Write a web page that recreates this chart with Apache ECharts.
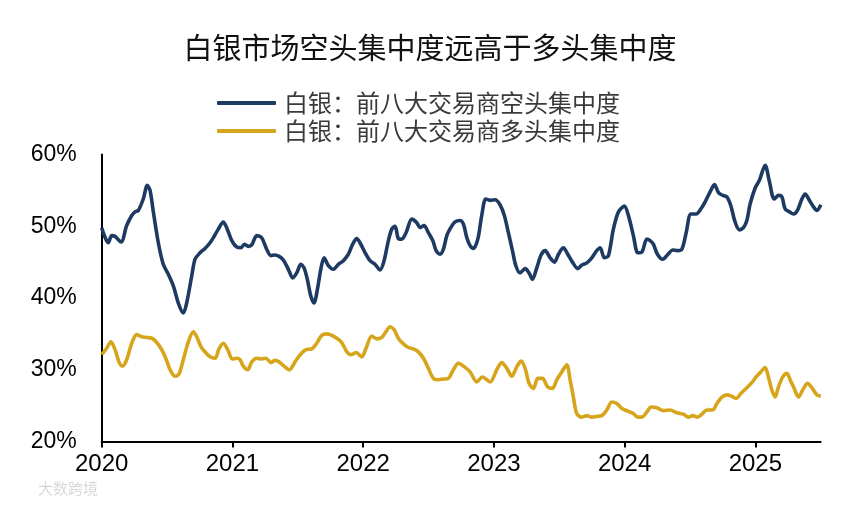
<!DOCTYPE html>
<html>
<head>
<meta charset="utf-8">
<script src="https://cdn.jsdelivr.net/npm/echarts@6/dist/echarts.min.js"></script>
<style>
html,body{margin:0;padding:0;background:#fff;}
#chart{width:860px;height:507px;}
</style>
</head>
<body>
<div id="chart"></div>
<script>
var titleText = '白银市场空头集中度远高于多头集中度';
var seriesNames = ['白银：前八大交易商空头集中度', '白银：前八大交易商多头集中度'];
var yearTicks = [2020, 2021, 2022, 2023, 2024, 2025];

var shortT = [2020.000,2020.050,2020.077,2020.102,2020.148,2020.191,2020.230,2020.255,2020.280,2020.318,
2020.349,2020.370,2020.395,2020.433,2020.471,2020.510,2020.548,2020.586,2020.624,2020.650,
2020.689,2020.714,2020.752,2020.790,2020.829,2020.854,2020.892,2020.930,2020.956,2020.995,
2021.033,2021.066,2021.091,2021.122,2021.148,2021.186,2021.224,2021.262,2021.295,2021.326,
2021.357,2021.389,2021.428,2021.461,2021.492,2021.523,2021.548,2021.573,2021.599,2021.624,
2021.650,2021.676,2021.701,2021.734,2021.772,2021.810,2021.849,2021.887,2021.920,2021.951,
2021.976,2022.015,2022.053,2022.091,2022.129,2022.160,2022.193,2022.219,2022.244,2022.269,
2022.295,2022.328,2022.372,2022.410,2022.435,2022.466,2022.499,2022.533,2022.558,2022.588,
2022.614,2022.640,2022.670,2022.703,2022.741,2022.767,2022.793,2022.818,2022.843,2022.877,
2022.907,2022.938,2022.971,2023.009,2023.047,2023.080,2023.111,2023.142,2023.168,2023.200,
2023.239,2023.269,2023.295,2023.328,2023.361,2023.392,2023.430,2023.463,2023.494,2023.532,
2023.565,2023.601,2023.642,2023.673,2023.711,2023.749,2023.787,2023.813,2023.845,2023.876,
2023.914,2023.953,2023.998,2024.029,2024.067,2024.101,2024.132,2024.170,2024.195,2024.220,
2024.251,2024.292,2024.327,2024.369,2024.404,2024.438,2024.471,2024.507,2024.547,2024.583,
2024.616,2024.654,2024.687,2024.718,2024.751,2024.782,2024.812,2024.845,2024.878,2024.909,
2024.935,2024.960,2024.998,2025.031,2025.075,2025.108,2025.144,2025.177,2025.203,2025.228,
2025.261,2025.292,2025.322,2025.356,2025.381,2025.414,2025.445,2025.471,2025.501];

var shortV = [49.8,47.7,48.7,48.6,47.8,50.1,51.5,52.0,52.2,53.8,
55.7,55.0,52.0,47.7,44.7,43.3,41.7,39.3,37.9,39.3,
43.1,45.4,46.3,46.9,47.7,48.4,49.6,50.6,49.8,48.0,
47.1,47.0,47.5,47.2,47.4,48.7,48.4,46.8,45.9,46.0,
45.8,45.3,44.0,42.8,43.5,44.7,44.2,42.6,40.3,39.3,
41.2,44.0,45.6,44.5,44.0,44.7,45.2,46.1,47.5,48.3,
47.7,46.3,45.2,44.7,43.9,45.2,48.0,49.6,50.0,48.3,
48.2,49.1,51.0,50.5,49.8,50.1,49.1,48.0,46.6,46.1,
46.8,48.7,49.8,50.6,50.8,50.3,48.4,47.3,46.9,48.2,
51.5,53.8,53.6,53.7,53.0,51.5,49.1,46.6,44.5,43.5,
44.1,43.5,42.6,44.2,46.0,46.6,45.6,45.0,46.1,47.0,
46.1,45.0,44.1,44.6,44.9,45.6,46.6,47.0,45.6,45.9,
49.6,52.0,52.8,51.5,48.7,46.3,46.4,48.2,48.0,47.5,
46.1,45.4,46.0,46.7,46.6,46.8,49.1,51.7,51.7,52.4,
53.4,54.8,55.8,54.7,54.3,54.1,52.9,50.6,49.5,49.8,
50.8,53.1,55.3,56.4,58.5,56.2,53.8,54.3,54.1,52.4,
52.0,51.7,52.2,53.8,54.5,53.6,52.7,52.2,53.0];

var longT = [2020.000,2020.038,2020.071,2020.102,2020.132,2020.158,2020.191,2020.230,2020.268,2020.306,
2020.344,2020.383,2020.421,2020.459,2020.490,2020.523,2020.561,2020.591,2020.624,2020.663,
2020.701,2020.727,2020.760,2020.790,2020.829,2020.867,2020.897,2020.930,2020.964,2020.999,
2021.033,2021.058,2021.083,2021.117,2021.148,2021.186,2021.224,2021.255,2021.295,2021.326,
2021.357,2021.389,2021.435,2021.479,2021.523,2021.563,2021.607,2021.645,2021.683,2021.722,
2021.760,2021.798,2021.836,2021.875,2021.907,2021.946,2021.989,2022.022,2022.066,2022.104,
2022.142,2022.175,2022.206,2022.236,2022.269,2022.308,2022.346,2022.384,2022.422,2022.461,
2022.499,2022.537,2022.575,2022.614,2022.652,2022.690,2022.728,2022.767,2022.818,2022.869,
2022.912,2022.971,2023.022,2023.060,2023.099,2023.137,2023.175,2023.208,2023.239,2023.269,
2023.302,2023.336,2023.371,2023.412,2023.448,2023.481,2023.519,2023.558,2023.583,2023.608,
2023.634,2023.673,2023.711,2023.749,2023.787,2023.826,2023.864,2023.902,2023.940,2023.979,
2024.029,2024.067,2024.101,2024.132,2024.170,2024.202,2024.246,2024.297,2024.348,2024.399,
2024.450,2024.488,2024.522,2024.557,2024.591,2024.629,2024.675,2024.706,2024.744,2024.782,
2024.820,2024.853,2024.889,2024.935,2024.973,2025.006,2025.042,2025.075,2025.100,2025.126,
2025.152,2025.177,2025.210,2025.241,2025.266,2025.297,2025.330,2025.363,2025.399,2025.432,
2025.471,2025.501];

var longV = [32.1,33.0,33.9,32.8,31.1,30.5,31.4,33.7,34.9,34.6,
34.5,34.4,33.8,32.8,31.6,30.0,29.1,29.4,31.4,33.9,
35.3,34.6,33.2,32.5,31.8,31.6,32.9,33.7,32.8,31.5,
31.6,31.4,30.5,30.0,31.1,31.6,31.5,31.6,31.0,31.3,
31.1,30.6,30.0,31.1,32.2,32.8,32.9,33.7,34.8,35.0,
34.8,34.4,33.8,32.5,32.1,32.4,31.8,33.0,34.7,34.3,
34.5,35.3,36.0,35.6,34.4,33.6,33.1,32.9,32.5,31.6,
30.2,28.8,28.6,28.7,28.8,30.0,30.9,30.5,29.7,28.3,
29.0,28.3,30.0,31.0,30.2,29.1,30.4,31.2,30.2,28.1,
27.4,28.8,28.8,27.6,27.4,28.6,29.7,30.7,28.6,26.2,
23.9,23.4,23.6,23.4,23.5,23.6,24.4,25.5,25.3,24.6,
24.2,23.9,23.4,23.4,24.1,24.8,24.7,24.3,24.4,24.0,
23.8,23.4,23.6,23.4,23.8,24.4,24.4,25.3,26.2,26.5,
26.3,26.0,26.7,27.5,28.2,29.0,29.7,30.3,29.0,27.2,
26.2,27.6,29.0,29.5,28.6,27.4,26.2,27.2,28.1,27.5,
26.5,26.3];

function pairs(t, v) {
  var out = [];
  for (var i = 0; i < t.length && i < v.length; i++) out.push([t[i], v[i]]);
  return out;
}

var chart = echarts.init(document.getElementById('chart'), null, {renderer: 'canvas'});
chart.setOption({
  backgroundColor: '#ffffff',
  animation: false,
  title: {
    text: titleText,
    left: 'center',
    top: 28,
    textStyle: {fontFamily: 'Noto Sans CJK SC', fontSize: 29, fontWeight: 'normal', color: '#111111'}
  },
  legend: {
    orient: 'vertical',
    left: 212,
    top: 86,
    itemGap: 4,
    itemWidth: 59,
    itemHeight: 4,
    icon: 'roundRect',
    data: seriesNames,
    textStyle: {fontFamily: 'Noto Sans CJK SC', fontSize: 24, color: '#3a3a3a', padding: [0, 0, 0, 3]}
  },
  grid: {left: 101.7, right: 39.3, top: 154.5, bottom: 65.5, containLabel: false},
  xAxis: {
    type: 'value',
    min: 2020,
    max: 2025.5,
    interval: 1,
    axisLine: {show: true, lineStyle: {color: '#000', width: 2}},
    axisTick: {show: true, length: 6, customValues: yearTicks, lineStyle: {color: '#000', width: 2}},
    axisLabel: {
      customValues: yearTicks,
      fontFamily: 'Liberation Sans', fontSize: 24, color: '#000', margin: 11,
      formatter: function (v) { return String(Math.round(v)); }
    },
    splitLine: {show: false}
  },
  yAxis: {
    type: 'value',
    min: 20,
    max: 60,
    interval: 10,
    axisLine: {show: true, lineStyle: {color: '#000', width: 2}},
    axisTick: {show: false},
    axisLabel: {fontFamily: 'Liberation Sans', fontSize: 23, color: '#000', margin: 25, formatter: '{value}%'},
    splitLine: {show: false}
  },
  series: [
    {
      name: seriesNames[0], type: 'line', data: pairs(shortT, shortV),
      symbol: 'none', smooth: 0.3,
      lineStyle: {color: '#1d3a63', width: 3.6}, itemStyle: {color: '#1d3a63'}
    },
    {
      name: seriesNames[1], type: 'line', data: pairs(longT, longV),
      symbol: 'none', smooth: 0.3,
      lineStyle: {color: '#d6a51b', width: 3.6}, itemStyle: {color: '#d6a51b'}
    }
  ],
  graphic: [
    {type: 'text', left: 38, top: 481, style: {text: '大数跨境', font: '15px "Noto Sans CJK SC"', fill: '#d9d9d9'}}
  ]
});
</script>
</body>
</html>
